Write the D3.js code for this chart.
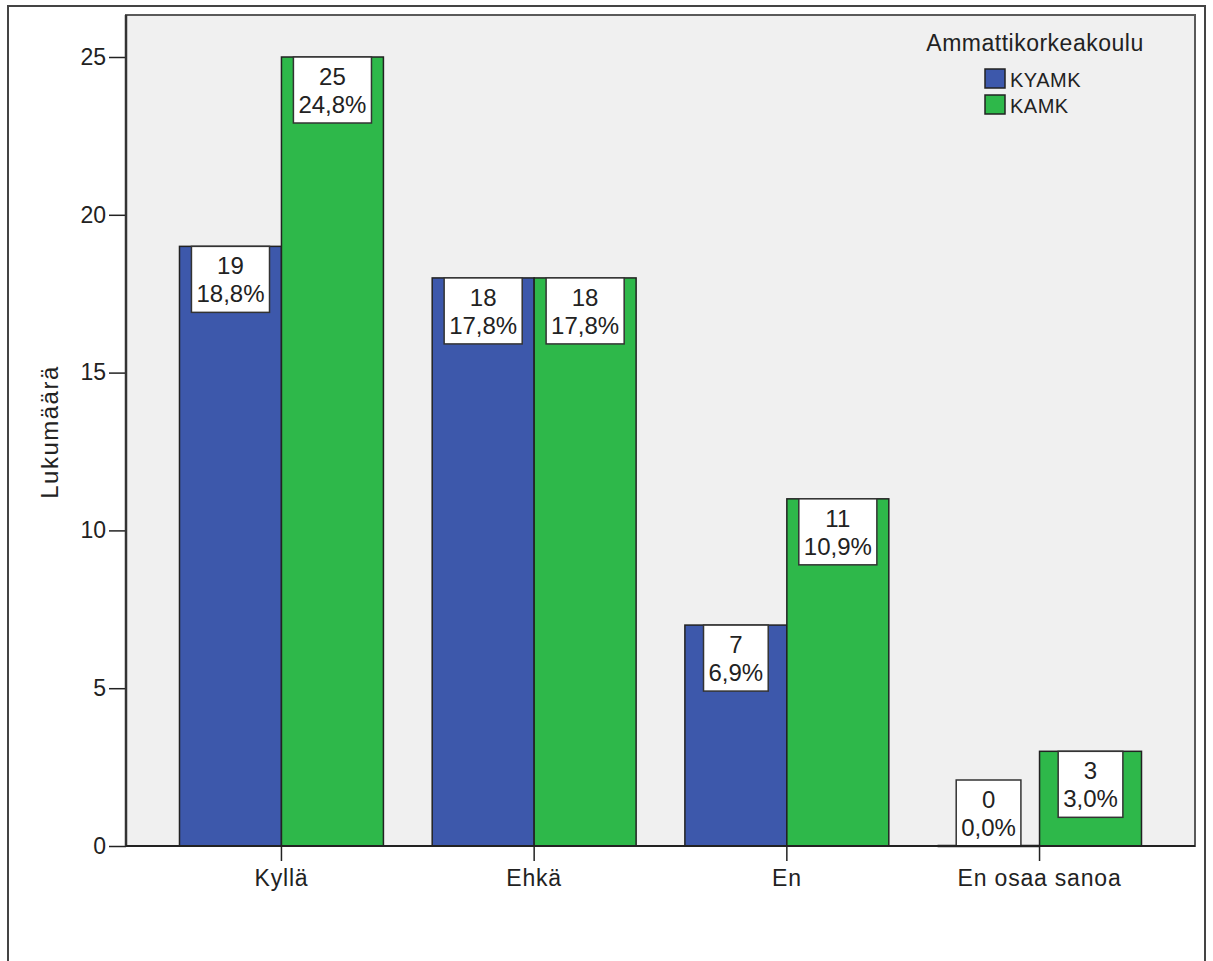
<!DOCTYPE html>
<html><head><meta charset="utf-8">
<script src="https://cdn.jsdelivr.net/npm/d3@7"></script>
<style>
html,body{margin:0;padding:0;background:#fff;}
svg{display:block;font-family:"Liberation Sans",Arial,sans-serif;}
</style></head>
<body><svg id="chart" width="1213" height="961"></svg>
<script>
const categories = ["Kyllä", "Ehkä", "En", "En osaa sanoa"];
const seriesNames = ["KYAMK", "KAMK"];
const countsKYAMK = [19, 18, 7, 0];
const countsKAMK = [25, 18, 11, 3];
const pctKYAMK = ["18,8%", "17,8%", "6,9%", "0,0%"];
const pctKAMK = ["24,8%", "17,8%", "10,9%", "3,0%"];
const yTicks = [0, 5, 10, 15, 20, 25];
const colors = ["#3D58AB", "#2EB84A"];
const legendTitle = "Ammattikorkeakoulu";
const yTitle = "Lukumäärä";

const svg = d3.select("#chart");
const L = 126, R = 1195, T = 15, B = 846;

// outer frame
svg.append("rect").attr("x", 8).attr("y", 6).attr("width", 1197).attr("height", 1000)
  .attr("fill", "#fff").attr("stroke", "#444").attr("stroke-width", 2);

// plot background
svg.append("rect").attr("x", L).attr("y", T).attr("width", R - L).attr("height", B - T)
  .attr("fill", "#F0F0F0").attr("stroke", "#5a5a5a").attr("stroke-width", 2);

const x0 = d3.scaleBand().domain(categories).range([L, R]).paddingInner(0.193).paddingOuter(0.2117);
const x1 = d3.scaleBand().domain(seriesNames).range([0, x0.bandwidth()]);
const y = d3.scaleLinear().domain([0, 25]).range([B, 57]);

const data = categories.map((c, i) => ({
  cat: c,
  vals: [
    {s: seriesNames[0], v: countsKYAMK[i], p: pctKYAMK[i], k: 0},
    {s: seriesNames[1], v: countsKAMK[i], p: pctKAMK[i], k: 1}
  ]
}));

const g = svg.append("g");
const groups = g.selectAll("g.grp").data(data).join("g")
  .attr("transform", d => `translate(${x0(d.cat)},0)`);

groups.selectAll("rect.bar").data(d => d.vals.filter(v => v.v > 0)).join("rect")
  .attr("class", "bar")
  .attr("x", d => x1(d.s)).attr("width", x1.bandwidth())
  .attr("y", d => y(d.v)).attr("height", d => B - y(d.v))
  .attr("fill", d => colors[d.k]).attr("stroke", "#222").attr("stroke-width", 1.5);
// zero-height bars drawn as a line on the axis
groups.selectAll("line.zero").data(d => d.vals.filter(v => v.v === 0)).join("line")
  .attr("class", "zero")
  .attr("x1", d => x1(d.s)).attr("x2", d => x1(d.s) + x1.bandwidth())
  .attr("y1", d => y(d.v)).attr("y2", d => y(d.v))
  .attr("stroke", "#222").attr("stroke-width", 2.5);

// axes
const yAxis = d3.axisLeft(y).tickValues(yTicks).tickSize(17).tickPadding(3);
const ya = svg.append("g").attr("transform", `translate(${L},0)`).call(yAxis);
ya.select(".domain").remove();
svg.append("line").attr("x1", L).attr("x2", L).attr("y1", T).attr("y2", B).attr("stroke", "#333").attr("stroke-width", 2.5);
ya.selectAll("line").attr("stroke", "#222").attr("stroke-width", 1.5);
ya.selectAll("text").attr("font-size", 23).attr("fill", "#222").attr("font-family", "Liberation Sans, Arial, sans-serif");

const xAxis = d3.axisBottom(x0).tickSize(15).tickPadding(9);
const xa = svg.append("g").attr("transform", `translate(0,${B})`).call(xAxis);
xa.select(".domain").remove();
svg.append("line").attr("x1", L).attr("x2", R).attr("y1", B).attr("y2", B).attr("stroke", "#222").attr("stroke-width", 2);
xa.selectAll("line").attr("stroke", "#222").attr("stroke-width", 1.5);
xa.selectAll("text").attr("font-size", 23).attr("fill", "#222").attr("letter-spacing", 0.8)
  .attr("font-family", "Liberation Sans, Arial, sans-serif");

// value labels
groups.each(function(d) {
  const gg = d3.select(this);
  d.vals.forEach(v => {
    const cx = x1(v.s) + x1.bandwidth() / 2;
    const lab = gg.append("g");
    const t1 = lab.append("text").text(v.v).attr("x", cx).attr("text-anchor", "middle")
      .attr("font-size", 24).attr("fill", "#222");
    const t2 = lab.append("text").text(v.p).attr("x", cx).attr("text-anchor", "middle")
      .attr("font-size", 24).attr("fill", "#222");
    const w = Math.max(t1.node().getComputedTextLength(), t2.node().getComputedTextLength()) + 10;
    const h = 66;
    let top = y(v.v);
    if (top + h > B) top = B - h;
    lab.insert("rect", "text").attr("x", cx - w / 2).attr("y", top).attr("width", w).attr("height", h)
      .attr("fill", "#fff").attr("stroke", "#333").attr("stroke-width", 1.5);
    t1.attr("y", top + 28);
    t2.attr("y", top + 56);
  });
});

// y title
svg.append("text").attr("transform", "translate(58,432) rotate(-90)").attr("text-anchor", "middle")
  .attr("font-size", 24).attr("fill", "#222").attr("letter-spacing", 1.5).text(yTitle);

// legend
const lg = svg.append("g");
lg.append("text").attr("x", 1035).attr("y", 51).attr("text-anchor", "middle").attr("font-size", 23)
  .attr("fill", "#222").attr("letter-spacing", 0.5).text(legendTitle);
seriesNames.forEach((s, i) => {
  lg.append("rect").attr("x", 985).attr("y", 69 + i * 26).attr("width", 20).attr("height", 19)
    .attr("fill", colors[i]).attr("stroke", "#222").attr("stroke-width", 1.5);
  lg.append("text").attr("x", 1010).attr("y", 87 + i * 26).attr("font-size", 20).attr("fill", "#222")
    .attr("letter-spacing", 0.5).text(s);
});
</script></body></html>
